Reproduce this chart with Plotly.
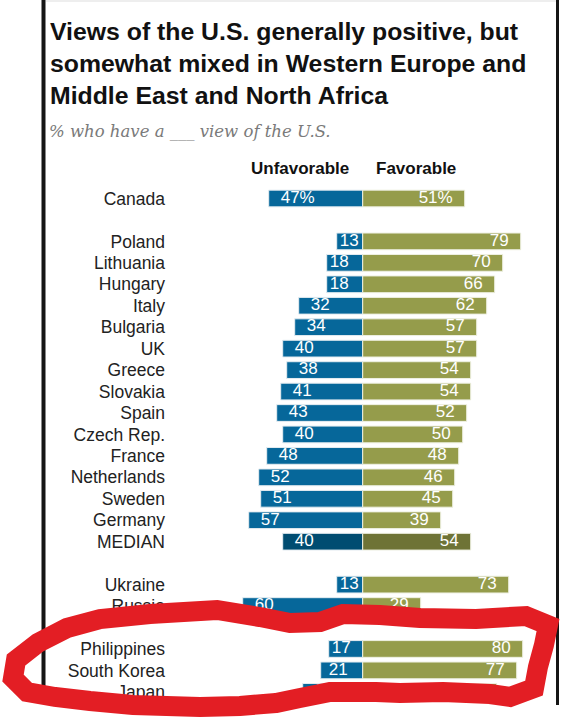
import plotly.graph_objects as go

# data
countries = ["Canada",
             "Poland", "Lithuania", "Hungary", "Italy", "Bulgaria", "UK", "Greece",
             "Slovakia", "Spain", "Czech Rep.", "France", "Netherlands", "Sweden",
             "Germany", "MEDIAN",
             "Ukraine", "Russia",
             "Philippines", "South Korea", "Japan"]
unfavorable = [47, 13, 18, 18, 32, 34, 40, 38, 41, 43, 40, 48, 52, 51, 57, 40, 13, 60, 17, 21, 30]
favorable = [51, 79, 70, 66, 62, 57, 57, 54, 54, 52, 50, 48, 46, 45, 39, 54, 73, 29, 80, 77, 67]
group_sizes = [1, 15, 2, 3]

W, H = 566, 723
BLUE, OLIVE = "#06679a", "#959c4b"
BLUE_DARK, OLIVE_DARK = "#004c71", "#6e7336"


def px_x(px):
    return px / W


def px_y(py):
    return 1 - py / H


# row positions: one empty row between groups
rows = []
r = 0
for n in group_sizes:
    for _ in range(n):
        rows.append(r)
        r += 1
    r += 1

is_median = [c == "MEDIAN" for c in countries]
blue_cols = [BLUE_DARK if m else BLUE for m in is_median]
olive_cols = [OLIVE_DARK if m else OLIVE for m in is_median]
suffix = ["%" if i == 0 else "" for i in range(len(countries))]
unf_text = [f"{v}{s}" for v, s in zip(unfavorable, suffix)]
fav_text = [f"{v}{s}" for v, s in zip(favorable, suffix)]

# label offsets from the bar tips (data units, 2px per point)
unf_pos = [-v + max(3, min(12, 2 * v - 34)) / 2 for v in unfavorable]
fav_pos = [v - 6 for v in favorable]

fig = go.Figure()
fig.add_trace(go.Bar(y=rows, x=[-v for v in unfavorable], orientation="h", width=0.78,
                     marker=dict(color=blue_cols, line=dict(color="#e4ecf1", width=1)),
                     hoverinfo="skip"))
fig.add_trace(go.Bar(y=rows, x=favorable, orientation="h", width=0.78,
                     marker=dict(color=olive_cols, line=dict(color="#eef0e2", width=1)),
                     hoverinfo="skip"))
fig.add_trace(go.Scatter(y=rows, x=unf_pos, text=unf_text, mode="text",
                         textposition="middle right",
                         textfont=dict(family="Liberation Sans, Arial", size=17, color="white"),
                         hoverinfo="skip"))
fig.add_trace(go.Scatter(y=rows, x=fav_pos, text=fav_text, mode="text",
                         textposition="middle left",
                         textfont=dict(family="Liberation Sans, Arial", size=17, color="white"),
                         hoverinfo="skip"))

x0 = 166
zero_px, scale = 362.7, 2.0
row0, step = 198.5, 21.45

fig.update_layout(
    width=W, height=H,
    margin=dict(l=0, r=0, t=0, b=0),
    paper_bgcolor="white", plot_bgcolor="white",
    barmode="overlay", showlegend=False,
    xaxis=dict(domain=[px_x(x0), 1],
               range=[(x0 - zero_px) / scale, (W - zero_px) / scale],
               visible=False, fixedrange=True),
    yaxis=dict(range=[(H - row0) / step, -row0 / step],
               tickvals=rows, ticktext=countries, ticks="",
               showgrid=False, zeroline=False, showline=False,
               tickfont=dict(family="Liberation Sans, Arial", size=17.5, color="#222"),
               fixedrange=True, automargin=False),
    font=dict(family="Liberation Sans, Arial"),
)

fig.add_annotation(
    x=px_x(48), y=px_y(16), xref="paper", yref="paper", xanchor="left", yanchor="top",
    align="left", showarrow=False,
    text="<b>Views of the U.S. generally positive, but<br>somewhat mixed in Western Europe and"
         "<br>Middle East and North Africa</b>",
    font=dict(family="Liberation Sans, Arial", size=24.8, color="#111"))
fig.add_annotation(
    x=px_x(47), y=px_y(131), xref="paper", yref="paper", xanchor="left", yanchor="middle",
    showarrow=False, text="<i>% who have a ___ view of the U.S.</i>",
    font=dict(family="DejaVu Serif", size=16.5, color="#7a7a7a"))
fig.add_annotation(
    x=px_x(300), y=px_y(168), xref="paper", yref="paper", xanchor="center", yanchor="middle",
    showarrow=False, text="<b>Unfavorable</b>", font=dict(size=17, color="#111"))
fig.add_annotation(
    x=px_x(416), y=px_y(168), xref="paper", yref="paper", xanchor="center", yanchor="middle",
    showarrow=False, text="<b>Favorable</b>", font=dict(size=17, color="#111"))

# frame of the screenshot
fig.add_shape(type="line", xref="paper", yref="paper", x0=px_x(46), x1=px_x(556),
              y0=px_y(1), y1=px_y(1), line=dict(color="#dddddd", width=1))
fig.add_shape(type="line", xref="paper", yref="paper", x0=px_x(43.5), x1=px_x(43.5),
              y0=px_y(0), y1=px_y(700), line=dict(color="#151515", width=4))
fig.add_shape(type="line", xref="paper", yref="paper", x0=px_x(557.5), x1=px_x(557.5),
              y0=px_y(0), y1=px_y(705), line=dict(color="#151515", width=3))

# red hand-drawn loop around the Asia rows
scribble = [(276, 703), (240, 706), (200, 707), (133, 705), (90, 701), (55, 697), (27, 692),
            (13, 678), (16, 660), (38, 643), (67, 628), (100, 619), (150, 614), (217, 610),
            (260, 617), (290, 623), (320, 622), (343, 614), (380, 615), (420, 618), (476, 619),
            (526, 616), (548, 625), (544, 645), (538, 667), (534, 688), (510, 697), (490, 694),
            (443, 692), (400, 693), (376, 692), (330, 692), (300, 698), (276, 703)]
path = "M " + " L ".join(f"{px_x(a):.4f},{px_y(b):.4f}" for a, b in scribble) + " Z"
fig.add_shape(type="path", xref="paper", yref="paper", path=path,
              line=dict(color="#e31e24", width=20))

# the page body has an 8px default margin; drop it so the figure sits at the corner
fig.write_html("out.html", config={"displayModeBar": False},
               post_script="document.body.style.margin='0';")
